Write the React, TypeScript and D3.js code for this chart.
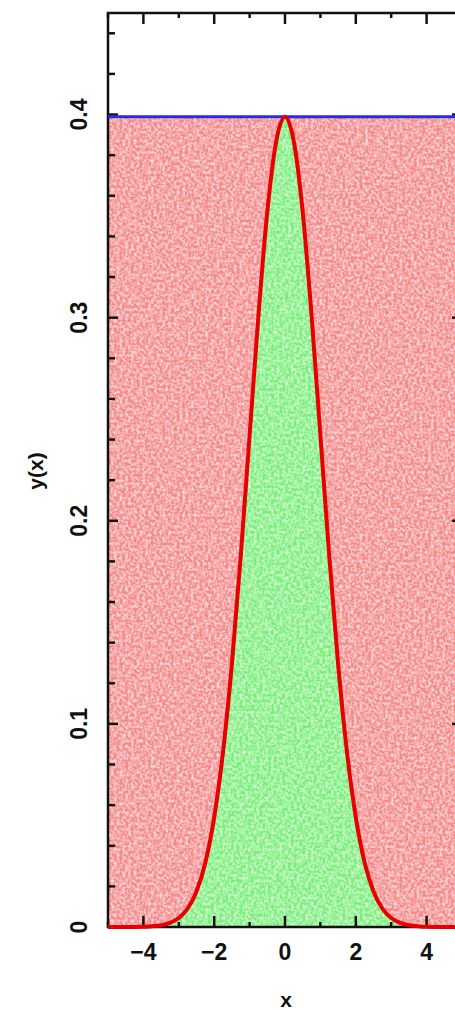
import React, { useEffect, useRef } from 'react'
import * as d3 from 'd3'

// curve (x, y)
const curveX = [-5, -4.5, -4, -3.75, -3.5, -3.25, -3, -2.75, -2.5, -2.25, -2, -1.75, -1.5, -1.25, -1, -0.75, -0.5, -0.25, 0,
    0.25, 0.5, 0.75, 1, 1.25, 1.5, 1.75, 2, 2.25, 2.5, 2.75, 3, 3.25, 3.5, 3.75, 4, 4.5, 5]
const curveY = [0, 0, 0.0001, 0.0004, 0.0009, 0.002, 0.0044, 0.0091, 0.0175, 0.0317, 0.054, 0.0863, 0.1295, 0.1826, 0.242, 0.3011, 0.3521, 0.3867, 0.3989,
    0.3867, 0.3521, 0.3011, 0.242, 0.1826, 0.1295, 0.0863, 0.054, 0.0317, 0.0175, 0.0091, 0.0044, 0.002, 0.0009, 0.0004, 0.0001, 0, 0]
const envelope = 0.3989
const xTicks = [-4, -2, 0, 2, 4]
const xMinor = [-5, -3, -1, 1, 3, 5]
const yTicks = [0, 0.1, 0.2, 0.3, 0.4]
const yMinor = [0.02, 0.04, 0.06, 0.08, 0.12, 0.14, 0.16, 0.18, 0.22, 0.24, 0.26, 0.28, 0.32, 0.34, 0.36, 0.38, 0.42, 0.44]

const W = 455
const H = 1010

export default function App() {
    const el = useRef<SVGSVGElement>(null)

    useEffect(() => {
        makeChart(el.current)
    }, [])

    return (
        <svg ref={el} width={W} height={H}
            style={{ position: 'absolute', left: 0, top: 0, background: '#fff' }} />
    )
}

function makeChart(node: SVGSVGElement | null) {
    if (!node) return
    const svg = d3.select(node)
    svg.selectAll('*').remove()

    const left = 108, right = 462, top = 13, bottom = 927
    const x = d3.scaleLinear().domain([-5, 5]).range([left, right])
    const y = d3.scaleLinear().domain([0, 0.45]).range([bottom, top])
    const pts = curveX.map((v, i) => [v, curveY[i]] as [number, number])

    // soft speckle texture for the filled regions
    const defs = svg.append('defs')
    const f = defs.append('filter').attr('id', 'speck')
        .attr('x', 0).attr('y', 0).attr('width', 1).attr('height', 1)
    f.append('feTurbulence').attr('type', 'fractalNoise')
        .attr('baseFrequency', 0.35).attr('numOctaves', 2).attr('seed', 3).attr('result', 'n')
    f.append('feColorMatrix').attr('in', 'n').attr('type', 'matrix')
        .attr('values', '0 0 0 0 1  0 0 0 0 1  0 0 0 0 1  1.4 0 0 0 -0.5').attr('result', 'w')
    f.append('feGaussianBlur').attr('in', 'w').attr('stdDeviation', 0.6).attr('result', 'wb')
    f.append('feComposite').attr('in', 'wb').attr('in2', 'SourceGraphic').attr('operator', 'in').attr('result', 'wc')
    f.append('feMerge').call(m => {
        m.append('feMergeNode').attr('in', 'SourceGraphic')
        m.append('feMergeNode').attr('in', 'wc')
    })

    const g = svg.append('g')

    // rejected region (under envelope)
    g.append('rect')
        .attr('x', x(-5)).attr('y', y(envelope))
        .attr('width', x(5) - x(-5)).attr('height', y(0) - y(envelope))
        .attr('fill', '#f58888')
        .attr('filter', 'url(#speck)')

    // accepted region (under curve)
    const area = d3.area<[number, number]>()
        .x(d => x(d[0])).y0(y(0)).y1(d => y(d[1]))
        .curve(d3.curveMonotoneX)
    g.append('path').datum(pts)
        .attr('d', area)
        .attr('fill', '#78f078')
        .attr('filter', 'url(#speck)')

    // frame
    g.append('rect')
        .attr('x', left).attr('y', top)
        .attr('width', right - left).attr('height', bottom - top)
        .attr('fill', 'none').attr('stroke', '#111').attr('stroke-width', 2.5)

    // ticks
    const tick = (x1: number, y1: number, x2: number, y2: number) =>
        g.append('line').attr('x1', x1).attr('y1', y1).attr('x2', x2).attr('y2', y2)
            .attr('stroke', '#111').attr('stroke-width', 2.5)
    xTicks.forEach(v => { tick(x(v), bottom, x(v), bottom - 11); tick(x(v), top, x(v), top + 11) })
    xMinor.forEach(v => { tick(x(v), bottom, x(v), bottom - 5); tick(x(v), top, x(v), top + 5) })
    yTicks.forEach(v => { tick(left, y(v), left + 10, y(v)); tick(right, y(v), right - 10, y(v)) })
    yMinor.forEach(v => { tick(left, y(v), left + 7, y(v)); tick(right, y(v), right - 7, y(v)) })

    // envelope line
    g.append('line')
        .attr('x1', x(-5)).attr('x2', x(5))
        .attr('y1', y(envelope)).attr('y2', y(envelope))
        .attr('stroke', '#2a2ae6').attr('stroke-width', 3)

    // curve
    const line = d3.line<[number, number]>()
        .x(d => x(d[0])).y(d => y(d[1]))
        .curve(d3.curveMonotoneX)
    g.append('path').datum(pts)
        .attr('d', line)
        .attr('fill', 'none')
        .attr('stroke', '#e80000').attr('stroke-width', 4)
        .attr('stroke-linejoin', 'round')

    const font = '"Liberation Sans", Arial, sans-serif'
    g.selectAll('.xl').data(xTicks).enter().append('text')
        .attr('x', d => x(d)).attr('y', 960)
        .attr('text-anchor', 'middle')
        .attr('font-family', font).attr('font-size', 23).attr('font-weight', 'bold').attr('fill', '#111')
        .text(d => d < 0 ? '\u2212' + Math.abs(d) : String(d))

    g.selectAll('.yl').data(yTicks).enter().append('text')
        .attr('transform', d => `translate(79,${y(d)}) rotate(-90)`)
        .attr('text-anchor', 'middle').attr('dy', '0.36em')
        .attr('font-family', font).attr('font-size', 23).attr('font-weight', 'bold').attr('fill', '#111')
        .text(d => d === 0 ? '0' : d.toFixed(1))

    g.append('text')
        .attr('x', 286).attr('y', 1007)
        .attr('text-anchor', 'middle')
        .attr('font-family', font).attr('font-size', 21).attr('font-weight', 'bold').attr('fill', '#111')
        .text('x')

    g.append('text')
        .attr('transform', 'translate(35,471) rotate(-90)')
        .attr('text-anchor', 'middle').attr('dy', '0.36em')
        .attr('font-family', font).attr('font-size', 21).attr('font-weight', 'bold').attr('fill', '#111')
        .text('y(x)')
}
